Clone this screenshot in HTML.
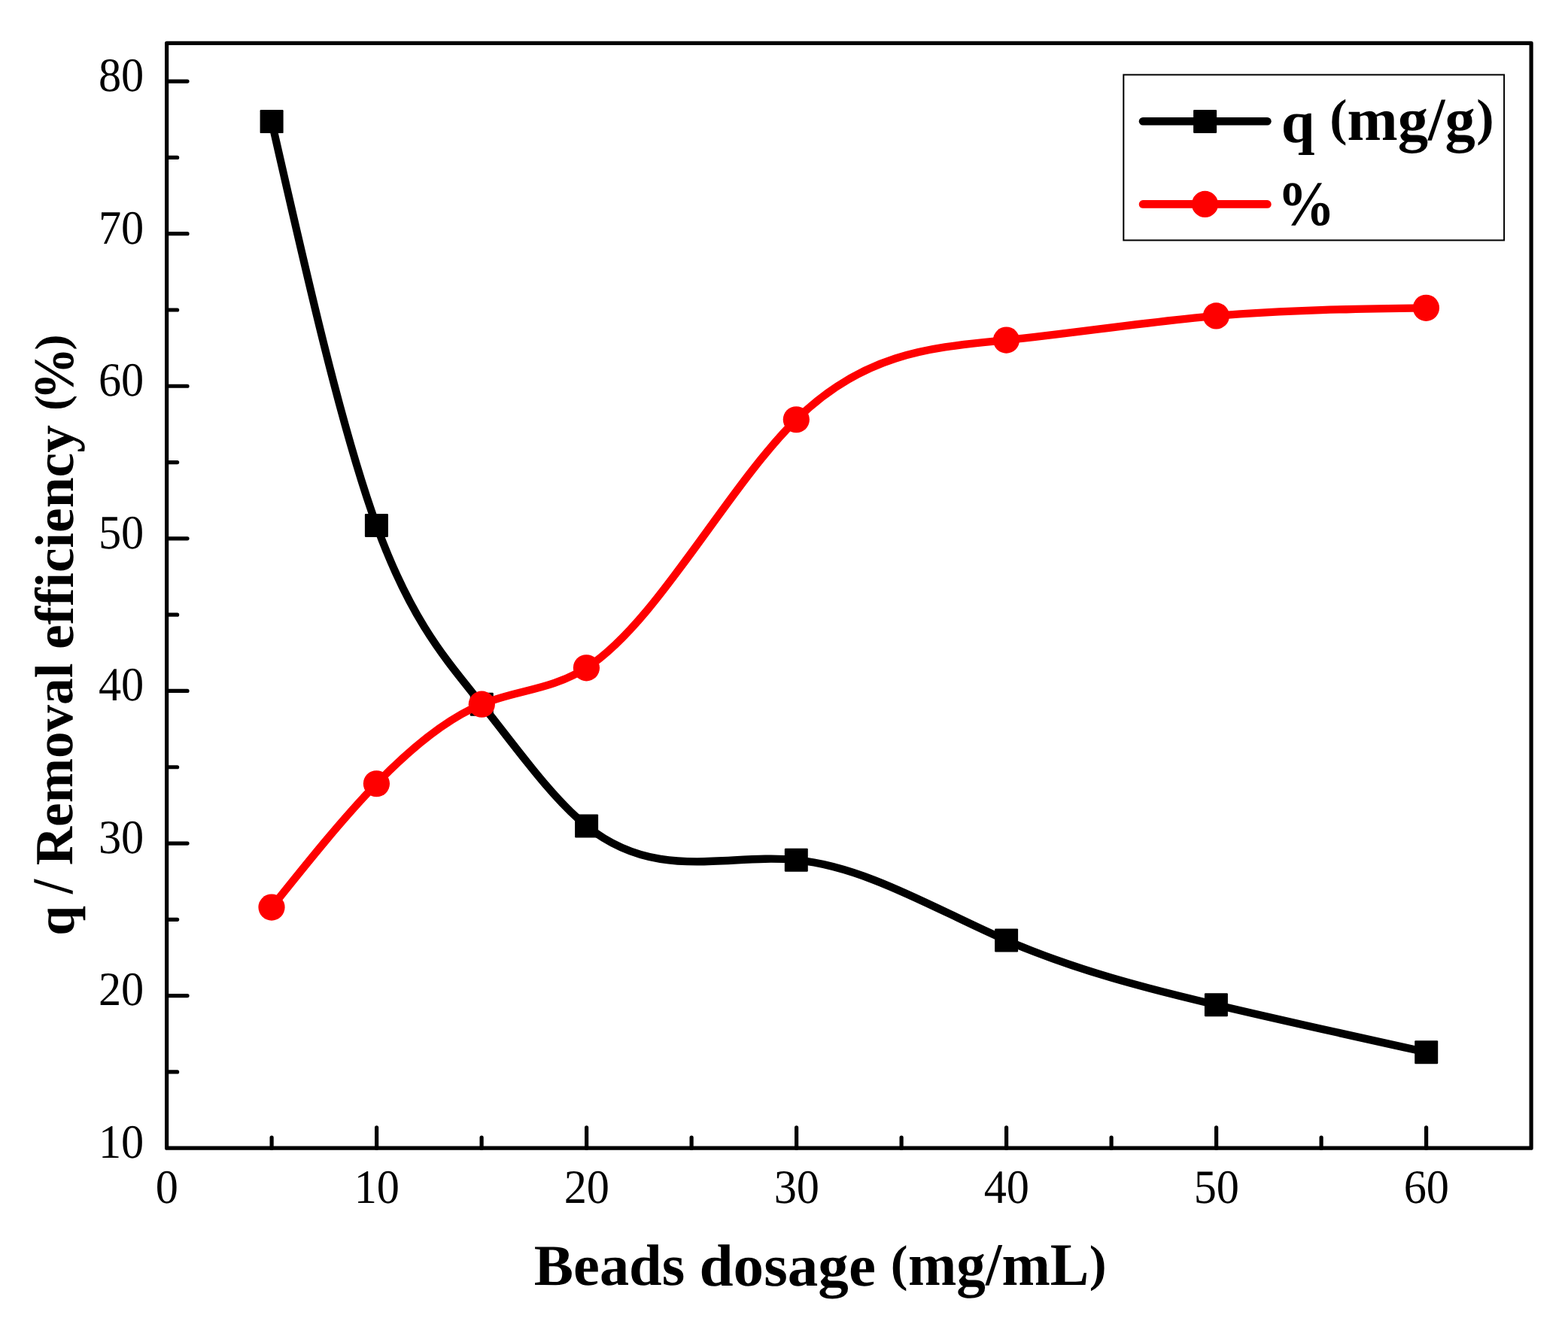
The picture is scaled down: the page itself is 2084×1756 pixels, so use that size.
<!DOCTYPE html>
<html lang="en"><head><meta charset="utf-8"><title>Beads dosage chart</title>
<style>
html,body{margin:0;padding:0;background:#fff;}
body{width:2084px;height:1756px;overflow:hidden;}
svg{display:block;}
text{font-family:"Liberation Serif","DejaVu Serif",serif;fill:#000;text-rendering:geometricPrecision;}
.b{font-weight:bold;}
</style></head><body>
<svg width="2084" height="1756" viewBox="0 0 2084 1756" role="img" aria-label="q and removal efficiency versus beads dosage">
<rect x="0" y="0" width="2084" height="1756" fill="#fff"/>
<path d="M361.10 161.60 C407.53 366.10 453.97 570.60 500.40 698.40 C547.03 826.75 593.67 877.73 640.30 936.30 C686.73 994.62 733.17 1060.45 779.60 1097.90 C872.50 1172.82 965.40 1134.08 1058.30 1143.20 C1151.40 1152.34 1244.50 1209.54 1337.60 1249.90 C1430.53 1290.19 1523.47 1313.71 1616.40 1335.70 C1709.50 1357.73 1802.60 1378.21 1895.70 1398.70" fill="none" stroke="#000" stroke-width="10.3" stroke-linecap="round" stroke-linejoin="round"/>
<rect x="345.60" y="146.10" width="31.0" height="31.0" rx="1.2" fill="#000"/>
<rect x="484.90" y="682.90" width="31.0" height="31.0" rx="1.2" fill="#000"/>
<rect x="624.80" y="920.80" width="31.0" height="31.0" rx="1.2" fill="#000"/>
<rect x="764.10" y="1082.40" width="31.0" height="31.0" rx="1.2" fill="#000"/>
<rect x="1042.80" y="1127.70" width="31.0" height="31.0" rx="1.2" fill="#000"/>
<rect x="1322.10" y="1234.40" width="31.0" height="31.0" rx="1.2" fill="#000"/>
<rect x="1600.90" y="1320.20" width="31.0" height="31.0" rx="1.2" fill="#000"/>
<rect x="1880.20" y="1383.20" width="31.0" height="31.0" rx="1.2" fill="#000"/>
<path d="M361.00 1206.10 C407.47 1147.99 453.93 1089.88 500.40 1041.75 C547.03 993.45 593.67 955.21 640.30 936.20 C686.67 917.30 733.03 917.42 779.40 887.80 C872.37 828.41 965.33 649.44 1058.30 557.75 C1151.37 465.96 1244.43 461.62 1337.50 452.10 C1430.47 442.59 1523.43 427.90 1616.40 419.90 C1709.40 411.90 1802.40 410.60 1895.40 409.30" fill="none" stroke="#fe0000" stroke-width="10.3" stroke-linecap="round" stroke-linejoin="round"/>
<circle cx="361.00" cy="1206.10" r="17.6" fill="#fe0000"/>
<circle cx="500.40" cy="1041.75" r="17.6" fill="#fe0000"/>
<circle cx="640.30" cy="936.20" r="17.6" fill="#fe0000"/>
<circle cx="779.40" cy="887.80" r="17.6" fill="#fe0000"/>
<circle cx="1058.30" cy="557.75" r="17.6" fill="#fe0000"/>
<circle cx="1337.50" cy="452.10" r="17.6" fill="#fe0000"/>
<circle cx="1616.40" cy="419.90" r="17.6" fill="#fe0000"/>
<circle cx="1895.40" cy="409.30" r="17.6" fill="#fe0000"/>
<rect x="221.6" y="57.4" width="1813.5" height="1468.8" fill="none" stroke="#000" stroke-width="5.2" stroke-linejoin="round"/>
<path d="M361.10 1526.20 V1512.20 M500.60 1526.20 V1498.80 M640.10 1526.20 V1512.20 M779.60 1526.20 V1498.80 M919.10 1526.20 V1512.20 M1058.60 1526.20 V1498.80 M1198.10 1526.20 V1512.20 M1337.60 1526.20 V1498.80 M1477.10 1526.20 V1512.20 M1616.60 1526.20 V1498.80 M1756.10 1526.20 V1512.20 M1895.60 1526.20 V1498.80 M221.60 1424.91 H235.60 M221.60 1323.61 H249.00 M221.60 1222.32 H235.60 M221.60 1121.03 H249.00 M221.60 1019.74 H235.60 M221.60 918.44 H249.00 M221.60 817.15 H235.60 M221.60 715.86 H249.00 M221.60 614.56 H235.60 M221.60 513.27 H249.00 M221.60 411.98 H235.60 M221.60 310.69 H249.00 M221.60 209.39 H235.60 M221.60 108.10 H249.00" fill="none" stroke="#000" stroke-width="5.2" stroke-linecap="round"/>
<rect x="1493.3" y="99.4" width="505.8" height="220" fill="#fff" stroke="#000" stroke-width="2"/>
<path d="M1519 161.3 H1684.4" stroke="#000" stroke-width="10.6" stroke-linecap="round"/>
<rect x="1586.10" y="145.90" width="31.0" height="31.0" rx="1.2" fill="#000"/>
<path d="M1519 271.4 H1684.4" stroke="#fe0000" stroke-width="10.6" stroke-linecap="round"/>
<circle cx="1601.5" cy="271.4" r="17.6" fill="#fe0000"/>
<text class="t" style="font-size:62px" text-anchor="middle" transform="translate(221.80 1598.93) scale(0.9730 1.0238)">0</text>
<text class="t" style="font-size:62px" text-anchor="middle" transform="translate(500.80 1598.93) scale(0.9730 1.0238)">10</text>
<text class="t" style="font-size:62px" text-anchor="middle" transform="translate(779.80 1598.93) scale(0.9730 1.0238)">20</text>
<text class="t" style="font-size:62px" text-anchor="middle" transform="translate(1058.80 1598.93) scale(0.9730 1.0238)">30</text>
<text class="t" style="font-size:62px" text-anchor="middle" transform="translate(1337.80 1598.93) scale(0.9730 1.0238)">40</text>
<text class="t" style="font-size:62px" text-anchor="middle" transform="translate(1616.80 1598.93) scale(0.9730 1.0238)">50</text>
<text class="t" style="font-size:62px" text-anchor="middle" transform="translate(1895.80 1598.93) scale(0.9730 1.0238)">60</text>
<text class="t" style="font-size:62px" transform="translate(130.96 1539.03) scale(0.9730 1.0262)">10</text>
<text class="t" style="font-size:62px" transform="translate(130.96 1336.44) scale(0.9730 1.0262)">20</text>
<text class="t" style="font-size:62px" transform="translate(130.96 1133.86) scale(0.9730 1.0262)">30</text>
<text class="t" style="font-size:62px" transform="translate(130.96 931.27) scale(0.9730 1.0262)">40</text>
<text class="t" style="font-size:62px" transform="translate(130.96 728.69) scale(0.9730 1.0262)">50</text>
<text class="t" style="font-size:62px" transform="translate(130.96 526.10) scale(0.9730 1.0262)">60</text>
<text class="t" style="font-size:62px" transform="translate(130.96 323.52) scale(0.9730 1.0262)">70</text>
<text class="t" style="font-size:62px" transform="translate(130.96 120.93) scale(0.9730 1.0262)">80</text>
<g class="xtitle">
<text class="b" style="font-size:78px" transform="translate(709.84 1708.36) scale(1.0048 0.9909)">Beads </text>
<text class="b" style="font-size:78px" transform="translate(929.48 1709.46) scale(1.0404 1.0112)">dosage </text>
<text class="b" style="font-size:78px" transform="translate(1183.66 1701.57) scale(0.8741 0.8624)">(</text>
<text class="b" style="font-size:78px" transform="translate(1207.02 1708.30) scale(0.9899 1.0300)">mg/mL</text>
<text class="b" style="font-size:78px" transform="translate(1447.70 1701.57) scale(0.8800 0.8624)">)</text>
</g>
<g class="leg1">
<text class="b" style="font-size:78px" transform="translate(1702.75 188.86) scale(1.0304 1.0175)">q </text>
<text class="b" style="font-size:78px" transform="translate(1767.30 179.31) scale(0.8938 0.8723)">(</text>
<text class="b" style="font-size:78px" transform="translate(1790.53 186.30) scale(1.0346 1.0400)">mg/g</text>
<text class="b" style="font-size:78px" transform="translate(1962.25 179.31) scale(0.9000 0.8723)">)</text>
</g>
<g class="leg2">
<text class="b" style="font-size:78px" transform="translate(1697.86 298.72) scale(0.9801 1.0774)">%</text>
</g>
<g class="ytitle">
<text class="b" style="font-size:70.5px" transform="translate(97.79 1243.68) rotate(-90) scale(1.0126 1.0204)">q </text>
<text class="b" style="font-size:70.5px" transform="translate(96.38 1188.07) rotate(-90) scale(0.9762 1.0921)">/ </text>
<text class="b" style="font-size:70.5px" transform="translate(96.14 1150.26) rotate(-90) scale(1.0091 1.0131)">Removal </text>
<text class="b" style="font-size:70.5px" transform="translate(97.36 863.05) rotate(-90) scale(1.0428 1.0323)">efficiency </text>
<text class="b" style="font-size:70.5px" transform="translate(88.88 545.66) rotate(-90) scale(0.8877 0.8750)">(</text>
<text class="b" style="font-size:70.5px" transform="translate(96.62 531.33) rotate(-90) scale(0.9833 1.0771)">%</text>
<text class="b" style="font-size:70.5px" transform="translate(88.88 465.61) rotate(-90) scale(0.8932 0.8750)">)</text>
</g>
</svg>
</body></html>
